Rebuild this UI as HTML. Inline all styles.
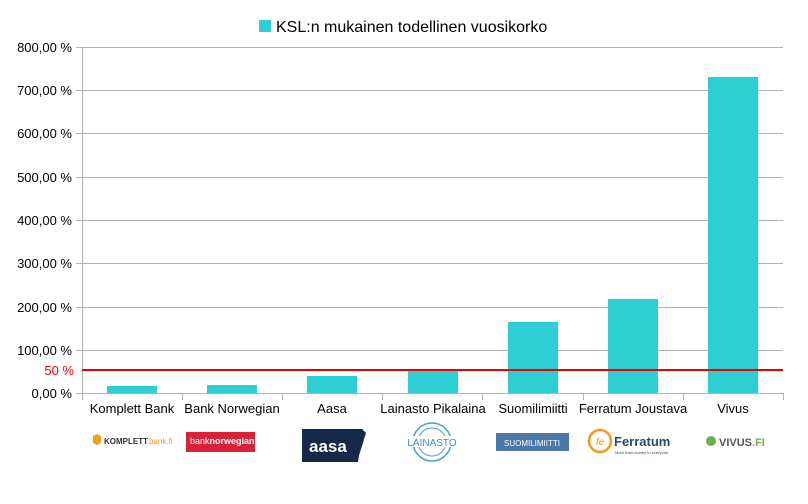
<!DOCTYPE html>
<html><head><meta charset="utf-8"><style>
body{margin:0;background:#fff;width:808px;height:499px;overflow:hidden;font-family:"Liberation Sans",sans-serif}
</style></head><body>
<svg width="808" height="499" xmlns="http://www.w3.org/2000/svg" font-family="Liberation Sans, sans-serif">
<rect x="259" y="20" width="12" height="12" fill="#2ecfd2"/>
<text x="276" y="32" font-size="16" fill="#000">KSL:n mukainen todellinen vuosikorko</text>
<g stroke="#b3b3b3" stroke-width="1">
<line x1="76" y1="47.5" x2="783" y2="47.5"/><line x1="76" y1="90.5" x2="783" y2="90.5"/>
<line x1="76" y1="133.5" x2="783" y2="133.5"/><line x1="76" y1="177.5" x2="783" y2="177.5"/>
<line x1="76" y1="220.5" x2="783" y2="220.5"/><line x1="76" y1="263.5" x2="783" y2="263.5"/>
<line x1="76" y1="307.5" x2="783" y2="307.5"/><line x1="76" y1="350.5" x2="783" y2="350.5"/>
<line x1="76" y1="393.5" x2="783" y2="393.5"/>
<line x1="82.5" y1="47" x2="82.5" y2="400"/>
<line x1="182.5" y1="393" x2="182.5" y2="400"/><line x1="282.5" y1="393" x2="282.5" y2="400"/>
<line x1="382.5" y1="393" x2="382.5" y2="400"/><line x1="482.5" y1="393" x2="482.5" y2="400"/>
<line x1="583.5" y1="393" x2="583.5" y2="400"/><line x1="683.5" y1="393" x2="683.5" y2="400"/>
<line x1="783.5" y1="393" x2="783.5" y2="400"/>
</g>
<g font-size="13" fill="#000" text-anchor="end">
<text x="72" y="52">800,00 %</text><text x="72" y="95">700,00 %</text>
<text x="72" y="138">600,00 %</text><text x="72" y="182">500,00 %</text>
<text x="72" y="225">400,00 %</text><text x="72" y="268">300,00 %</text>
<text x="72" y="312">200,00 %</text><text x="72" y="355">100,00 %</text>
<text x="72" y="398">0,00 %</text>
<text x="74" y="375" fill="#e00">50 %</text>
</g>
<g fill="#2ecfd2">
<rect x="107" y="386" width="50" height="7"/>
<rect x="207" y="385" width="50" height="8"/>
<rect x="307" y="376" width="50" height="17"/>
<rect x="408" y="371" width="50" height="22"/>
<rect x="508" y="322" width="50" height="71"/>
<rect x="608" y="299" width="50" height="94"/>
<rect x="708" y="77" width="50" height="316"/>
</g>
<line x1="82" y1="370" x2="783" y2="370" stroke="#e00" stroke-width="2"/>
<g font-size="13" fill="#000" text-anchor="middle">
<text x="132" y="413">Komplett Bank</text><text x="232" y="413">Bank Norwegian</text>
<text x="332" y="413">Aasa</text><text x="433" y="413">Lainasto Pikalaina</text>
<text x="533" y="413">Suomilimiitti</text><text x="633" y="413">Ferratum Joustava</text>
<text x="733" y="413">Vivus</text>
</g>
<!-- logos -->
<polygon points="93,436 97,434 101,436 101,443 97,445 93,443" fill="#f0a020"/>
<text x="104" y="444" font-size="8" font-weight="bold" fill="#333">KOMPLETT</text><text x="149" y="444" font-size="8" fill="#f0a020">bank.fi</text>
<rect x="186" y="432" width="69" height="20" fill="#d9213a"/>
<text x="190" y="444" font-size="9" fill="#fff">bank<tspan font-weight="bold">norwegian</tspan></text>
<polygon points="246,430 361,429 366,434 358,462 246,462" fill="#17294a" transform="translate(56,0) scale(0.5,1) translate(246,0)"/>
<polygon points="302,429 362,429 366,433 357,462 302,462" fill="#17294a"/>
<text x="309" y="452" font-size="17" font-weight="bold" fill="#fff">aasa</text>
<circle cx="432" cy="442" r="19" fill="none" stroke="#4a9fd0" stroke-width="1.5"/>
<circle cx="432" cy="442" r="14" fill="none" stroke="#4a9fd0" stroke-width="1"/>
<rect x="410" y="436" width="45" height="11" fill="#fff"/>
<text x="432" y="446" font-size="10" fill="#3a8cc8" text-anchor="middle">LAINASTO</text>
<rect x="496" y="433" width="73" height="18" fill="#4a78a8"/>
<text x="532" y="446" font-size="8" fill="#fff" text-anchor="middle">SUOMILIMIITTI</text>
<circle cx="600" cy="441" r="11" fill="none" stroke="#f39a1e" stroke-width="2.5"/>
<text x="600" y="445" font-size="10" fill="#f39a1e" text-anchor="middle" font-style="italic">fe</text>
<text x="614" y="446" font-size="13" font-weight="bold" fill="#2a4a6a">Ferratum</text>
<text x="615" y="454" font-size="4" fill="#2a4a6a">More than money to everyone</text>
<circle cx="711" cy="441" r="5" fill="#6ab04c"/>
<text x="719" y="446" font-size="11" font-weight="bold" fill="#555">VIVUS<tspan fill="#6ab04c">.FI</tspan></text>
</svg>
</body></html>
